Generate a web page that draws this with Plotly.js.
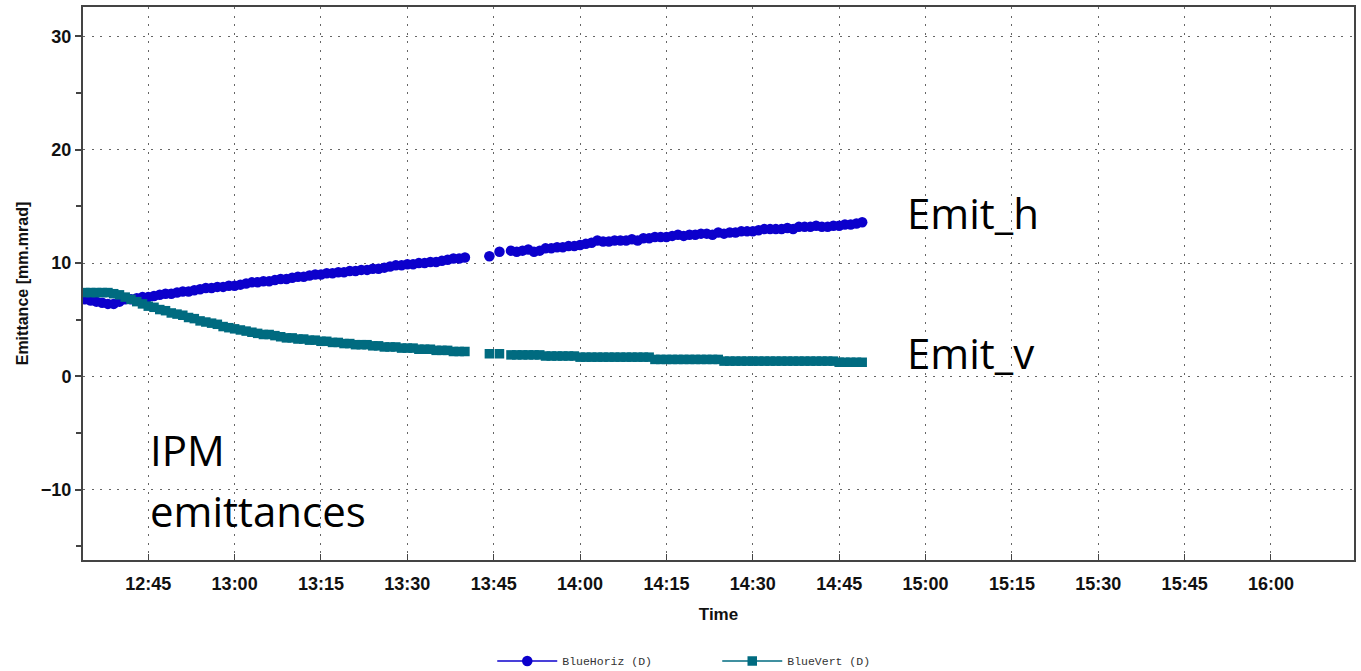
<!DOCTYPE html>
<html>
<head>
<meta charset="utf-8">
<script src="https://cdn.plot.ly/plotly-3.0.1.min.js"></script>
<style>
  html, body { margin: 0; padding: 0; background: #fff; }
  #chart { width: 1361px; height: 671px; }
</style>
</head>
<body>
<div id="chart"></div>
<script>
// ---- Data ----
const day = "2013-01-01 ";

const horizTimes = [
  "12:34","12:35","12:36","12:37","12:38","12:39","12:40","12:41","12:42","12:43",
  "12:44","12:45","12:46","12:47","12:48","12:49","12:50","12:51","12:52","12:53",
  "12:54","12:55","12:56","12:57","12:58","12:59","13:00","13:01","13:02","13:03",
  "13:04","13:05","13:06","13:07","13:08","13:09","13:10","13:11","13:12","13:13",
  "13:14","13:15","13:16","13:17","13:18","13:19","13:20","13:21","13:22","13:23",
  "13:24","13:25","13:26","13:27","13:28","13:29","13:30","13:31","13:32","13:33",
  "13:34","13:35","13:36","13:37","13:38","13:39","13:40","13:42",
  "13:44:15","13:45:10","13:46:00","13:47:00",
  "13:48","13:49","13:50","13:51","13:52","13:53","13:54","13:55","13:56","13:57",
  "13:58","13:59","14:00","14:01","14:02","14:03","14:04","14:05","14:06","14:07",
  "14:08","14:09","14:10","14:11","14:12","14:13","14:14","14:15","14:16","14:17",
  "14:18","14:19","14:20","14:21","14:22","14:23","14:24","14:25","14:26","14:27",
  "14:28","14:29","14:30","14:31","14:32","14:33","14:34","14:35","14:36","14:37",
  "14:38","14:39","14:40","14:41","14:42","14:43","14:44","14:45","14:46","14:47",
  "14:48","14:49"
];

const blueHoriz = [
  6.8,6.7,6.6,6.5,6.4,6.4,6.6,6.8,6.8,6.9,
  7.0,7.0,7.1,7.2,7.3,7.3,7.4,7.5,7.5,7.6,
  7.7,7.8,7.8,7.9,7.9,8.0,8.0,8.1,8.2,8.3,
  8.3,8.4,8.4,8.5,8.6,8.6,8.7,8.8,8.8,8.9,
  9.0,9.0,9.1,9.1,9.2,9.2,9.3,9.3,9.4,9.4,
  9.5,9.5,9.6,9.7,9.8,9.8,9.9,9.9,10.0,10.0,
  10.1,10.1,10.2,10.3,10.4,10.4,10.5,null,
  10.6,null,11.0,null,
  11.1,11.0,11.1,11.2,11.0,11.1,11.3,11.3,11.4,11.4,
  11.5,11.5,11.6,11.7,11.8,12.0,11.9,11.9,12.0,12.0,
  12.0,12.1,12.0,12.2,12.2,12.3,12.3,12.3,12.4,12.5,
  12.4,12.5,12.5,12.6,12.6,12.5,12.7,12.6,12.7,12.7,
  12.8,12.8,12.8,12.9,13.0,13.0,13.0,13.0,13.1,13.0,
  13.2,13.2,13.2,13.3,13.2,13.2,13.3,13.3,13.4,13.4,
  13.5,13.6
];

const blueVert = [
  7.4,7.4,7.4,7.4,7.4,7.3,7.2,7.0,6.8,6.6,
  6.4,6.2,6.1,5.9,5.8,5.6,5.5,5.4,5.2,5.1,
  4.9,4.8,4.7,4.6,4.4,4.3,4.2,4.1,4.0,3.9,
  3.8,3.7,3.7,3.6,3.5,3.4,3.4,3.3,3.3,3.2,
  3.2,3.1,3.1,3.0,3.0,2.9,2.9,2.8,2.8,2.8,
  2.7,2.7,2.6,2.6,2.6,2.5,2.5,2.5,2.4,2.4,
  2.4,2.3,2.3,2.3,2.2,2.2,2.2,null,
  2.0,null,2.0,null,
  1.9,1.9,1.9,1.9,1.9,1.9,1.8,1.8,1.8,1.8,
  1.8,1.8,1.7,1.7,1.7,1.7,1.7,1.7,1.7,1.7,
  1.7,1.7,1.7,1.7,1.7,1.5,1.5,1.5,1.5,1.5,
  1.5,1.5,1.5,1.5,1.5,1.5,1.5,1.35,1.35,1.35,
  1.35,1.35,1.35,1.35,1.35,1.35,1.35,1.35,1.35,1.35,
  1.35,1.35,1.35,1.35,1.35,1.35,1.35,1.25,1.25,1.25,
  1.25,1.25
];

const seriesNames = ["BlueHoriz (D)", "BlueVert (D)"];
const xRange = ["12:33:40", "16:14:25"];
const firstTick = "12:45";
const annotationTexts = ["Emit_h", "Emit_v", "IPM", "emittances"];

// ---- Build traces ----
const x = horizTimes.map(t => day + t);

const traces = [
  {
    x: x, y: blueHoriz, name: seriesNames[0], type: "scatter",
    mode: "lines+markers", connectgaps: false,
    line: { color: "#0c00cc", width: 1.5 },
    marker: { color: "#0c00cc", size: 10.5, symbol: "circle" }
  },
  {
    x: x, y: blueVert, name: seriesNames[1], type: "scatter",
    mode: "lines+markers", connectgaps: false,
    line: { color: "#006b80", width: 1.5 },
    marker: { color: "#006b80", size: 9.5, symbol: "square" }
  }
];

const tickFont = { family: "Liberation Sans, Arial, sans-serif", size: 18, color: "#111", weight: "bold" };
const annFont = { family: "Open Sans, sans-serif", size: 42, color: "#000" };

const layout = {
  width: 1361, height: 671,
  margin: { l: 83, r: 7, t: 7, b: 111 },
  paper_bgcolor: "#ffffff", plot_bgcolor: "#ffffff",
  showlegend: true,
  legend: {
    orientation: "h", x: 0.527, xref: "container", xanchor: "center",
    y: 0.015, yref: "container", yanchor: "middle",
    font: { family: "Liberation Mono, DejaVu Sans Mono, monospace", size: 11.5, color: "#333" },
    itemwidth: 60, entrywidth: 150, entrywidthmode: "pixels"
  },
  xaxis: {
    type: "date",
    range: [day + xRange[0], day + xRange[1]],
    tick0: day + firstTick, dtick: 15 * 60 * 1000,
    tickformat: "%H:%M",
    showgrid: true, gridcolor: "#666", gridwidth: 1, griddash: "2px,6.5px",
    showline: true, linecolor: "#444", linewidth: 2, mirror: true,
    ticks: "inside", ticklen: 6, tickcolor: "#444", tickwidth: 1,
    ticklabelstandoff: 6,
    tickfont: tickFont, zeroline: false,
    title: { text: "Time", font: { family: "Liberation Sans, Arial, sans-serif", size: 17, color: "#111", weight: "bold" }, standoff: 16 }
  },
  yaxis: {
    range: [-16.2, 32.6],
    tick0: 0, dtick: 10,
    showgrid: true, gridcolor: "#666", gridwidth: 1, griddash: "2px,6.5px",
    showline: true, linecolor: "#444", linewidth: 2, mirror: true,
    ticks: "outside", ticklen: 6, tickcolor: "#444", tickwidth: 2,
    minor: { dtick: 5, ticks: "outside", ticklen: 5, tickcolor: "#444", tickwidth: 2, showgrid: false },
    tickfont: tickFont, zeroline: false,
    title: { text: "Emittance [mm.mrad]", font: { family: "Liberation Sans, Arial, sans-serif", size: 16, color: "#111", weight: "bold" }, standoff: 8 }
  },
  annotations: [
    { text: annotationTexts[0], xref: "paper", yref: "paper", x: 0.647, y: 0.629, xanchor: "left", yanchor: "middle", showarrow: false, font: annFont },
    { text: annotationTexts[1], xref: "paper", yref: "paper", x: 0.647, y: 0.376, xanchor: "left", yanchor: "middle", showarrow: false, font: annFont },
    { text: annotationTexts[2], xref: "paper", yref: "paper", x: 0.0515, y: 0.199, xanchor: "left", yanchor: "middle", showarrow: false, font: annFont },
    { text: annotationTexts[3], xref: "paper", yref: "paper", x: 0.0515, y: 0.090, xanchor: "left", yanchor: "middle", showarrow: false, font: annFont }
  ]
};

Plotly.newPlot("chart", traces, layout, { displayModeBar: false, staticPlot: true });
</script>
</body>
</html>
